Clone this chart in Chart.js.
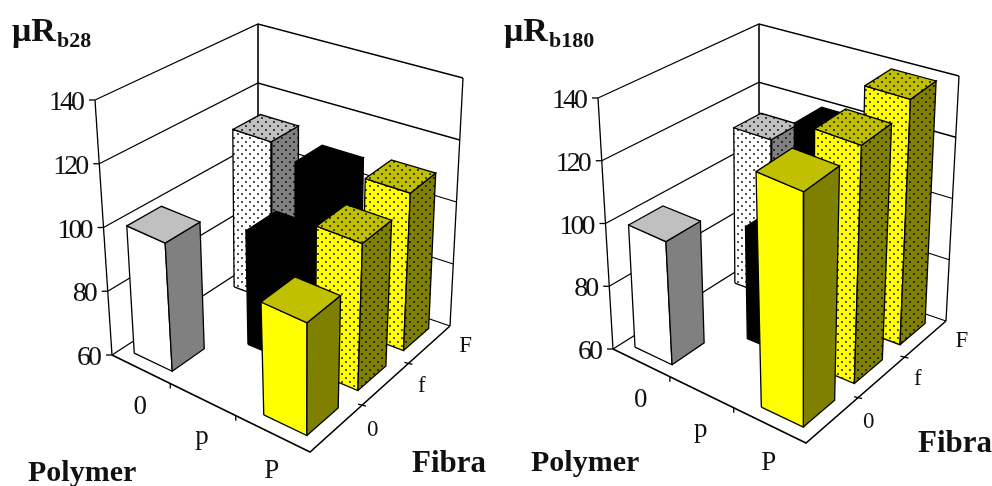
<!DOCTYPE html>
<html>
<head>
<meta charset="utf-8">
<title>Rb</title>
<script src="https://cdn.jsdelivr.net/npm/chart.js@4/dist/chart.umd.js"></script>
<style>
html, body { margin: 0; padding: 0; background: #fff; }
#wrap { position: relative; width: 992px; height: 486px; overflow: hidden; }
.panel { position: absolute; top: 0; width: 496px; height: 486px; filter: blur(0.4px); }
</style>
</head>
<body>
<div id="wrap">
  <div class="panel" style="left:0"><canvas id="chartB28"></canvas></div>
  <div class="panel" style="left:496px"><canvas id="chartB180"></canvas></div>
</div>
<script>
var polymerLabels = ['0', 'p', 'P'];
var fibraLabels = ['0', 'f', 'F'];
var tickValues = [60, 80, 100, 120, 140];

// fractional design, 7 bars only
var barPolymer = [0, 0, 1, 1, 2, 2, 2];
var barFibra   = [0, 2, 1, 2, 0, 1, 2];
var valuesB28  = [100, 112, 96, 108, 95, 106, 110];
var valuesB180 = [99, 112, 96, 120, 134, 135.5, 139];

var zMin = 60, zMax = 140;
// bar extent inside its cell, per polymer column
var barP0 = [0.2, 0.23, 0.24], barP1 = [0.85, 0.85, 0.82];
var barF = [0.2, 0.8];

// floor and top corners of the box, order: left, front, right, back
var boxB28 = {
    floor: [[112, 355], [310, 452], [450, 326], [258, 260]],
    top:   [[95, 100], [311, 195], [463, 78], [258, 24]]
};
var boxB180 = {
    floor: [[117, 349], [310, 443], [450, 321], [263, 257]],
    top:   [[102, 98], [311, 189], [463, 76], [263, 24]]
};

function homography(q) {
    // unit square -> quad
    var x0 = q[0][0], y0 = q[0][1], x1 = q[1][0], y1 = q[1][1];
    var x2 = q[2][0], y2 = q[2][1], x3 = q[3][0], y3 = q[3][1];
    var dx1 = x1 - x2, dx2 = x3 - x2, sx = x0 - x1 + x2 - x3;
    var dy1 = y1 - y2, dy2 = y3 - y2, sy = y0 - y1 + y2 - y3;
    var den = dx1 * dy2 - dx2 * dy1;
    var g = (sx * dy2 - dx2 * sy) / den;
    var h = (dx1 * sy - sx * dy1) / den;
    return function (p, f) {
        var w = g * p + h * f + 1;
        return [
            (x1 - x0 + g * x1) * p / w + (x3 - x0 + h * x3) * f / w + x0 / w,
            (y1 - y0 + g * y1) * p / w + (y3 - y0 + h * y3) * f / w + y0 / w
        ];
    };
}

function makeProjection(box) {
    var low = homography(box.floor), high = homography(box.top);
    return function (p, f, z) {
        var t = (z - zMin) / (zMax - zMin);
        var a = low(p, f), b = high(p, f);
        return { x: a[0] + (b[0] - a[0]) * t, y: a[1] + (b[1] - a[1]) * t };
    };
}

function dotPattern(color) {
    var c = document.createElement('canvas');
    c.width = 8; c.height = 8;
    var g = c.getContext('2d');
    g.fillStyle = color;
    g.fillRect(0, 0, 8, 8);
    g.fillStyle = '#000';
    g.beginPath();
    g.arc(2, 2, 0.9, 0, Math.PI * 2);
    g.arc(6, 6, 0.9, 0, Math.PI * 2);
    g.fill();
    return g.createPattern(c, 'repeat');
}

var barFaces = [
    { front: '#ffffff', side: '#808080', top: '#c0c0c0' },
    { front: dotPattern('#ffffff'), side: dotPattern('#808080'), top: dotPattern('#c0c0c0') },
    { front: '#000000', side: '#000000', top: '#000000' },
    { front: '#000000', side: '#000000', top: '#000000' },
    { front: '#ffff00', side: '#808000', top: '#c0c000' },
    { front: dotPattern('#ffff00'), side: dotPattern('#808000'), top: dotPattern('#c0c000') },
    { front: dotPattern('#ffff00'), side: dotPattern('#808000'), top: dotPattern('#c0c000') }
];

function wire(points, width) {
    return {
        data: points, showLine: true, fill: false, pointRadius: 0,
        borderColor: '#000', borderWidth: width || 1.3, tension: 0
    };
}

function face(points, color) {
    return {
        data: points.concat([points[0]]), showLine: true, fill: 'shape', pointRadius: 0,
        backgroundColor: color, borderColor: '#000', borderWidth: 1.3, tension: 0,
        borderJoinStyle: 'miter'
    };
}

function buildDatasets(values, proj) {
    var list = [];
    // walls
    for (var i = 0; i < tickValues.length; i++) {
        var z = tickValues[i];
        list.push(wire([proj(0, 0, z), proj(0, 1, z), proj(1, 1, z)]));
        var a = proj(0, 0, z);
        list.push(wire([a, { x: a.x - 6, y: a.y }]));
    }
    list.push(wire([proj(0, 0, zMin), proj(0, 0, zMax)]));
    list.push(wire([proj(0, 1, zMin), proj(0, 1, zMax)], 1.6));
    list.push(wire([proj(1, 1, zMin), proj(1, 1, zMax)]));
    // floor
    list.push(wire([proj(0, 0, zMin), proj(1, 0, zMin), proj(1, 1, zMin)], 1.6));
    for (var k = 1; k <= 2; k++) {
        var e = proj(k / 3, 0, zMin);
        list.push(wire([e, { x: e.x, y: e.y + 5 }]));
        var r = proj(1, k / 3, zMin);
        list.push(wire([{ x: r.x - 4, y: r.y - 1 }, { x: r.x + 4, y: r.y + 1 }]));
    }
    // bars, far ones first
    var order = barPolymer.map(function (v, i) { return i; });
    order.sort(function (a, b) {
        return (barPolymer[a] - barFibra[a]) - (barPolymer[b] - barFibra[b]);
    });
    order.forEach(function (i) {
        var col = barPolymer[i];
        var p0 = (col + barP0[col]) / 3, p1 = (col + barP1[col]) / 3;
        var f0 = (barFibra[i] + barF[0]) / 3, f1 = (barFibra[i] + barF[1]) / 3;
        var v = values[i], c = barFaces[i];
        list.push(face([proj(p0, f0, zMin), proj(p1, f0, zMin), proj(p1, f0, v), proj(p0, f0, v)], c.front));
        list.push(face([proj(p1, f0, zMin), proj(p1, f1, zMin), proj(p1, f1, v), proj(p1, f0, v)], c.side));
        list.push(face([proj(p0, f0, v), proj(p1, f0, v), proj(p1, f1, v), proj(p0, f1, v)], c.top));
    });
    // first dataset is painted last in chart.js
    return list.reverse();
}

function textPlugin(proj, title, sub, pos) {
    return {
        id: 'labels',
        afterDraw: function (chart) {
            var ctx = chart.ctx, sx = chart.scales.x, sy = chart.scales.y;
            function put(text, x, y, font, align, spacing) {
                ctx.font = font;
                ctx.textAlign = align || 'center';
                ctx.textBaseline = 'alphabetic';
                ctx.letterSpacing = spacing || '0px';
                ctx.fillStyle = '#111';
                ctx.fillText(text, sx.getPixelForValue(x), sy.getPixelForValue(y));
            }
            tickValues.forEach(function (z) {
                var a = proj(0, 0, z);
                put(String(z), a.x - 13, a.y + 10, '28px "Liberation Serif"', 'right', '-3px');
            });
            polymerLabels.forEach(function (s, i) {
                var a = proj((i + 0.5) / 3, 0, zMin);
                put(s, a.x, a.y + 45, '27px "Liberation Serif"');
            });
            fibraLabels.forEach(function (s, i) {
                var a = proj(1, (i + 0.5) / 3, zMin);
                put(s, a.x + 36, a.y + 8, '23px "Liberation Serif"');
            });
            put(title, pos.titleX, 41, 'bold 34px "Liberation Serif"', 'left');
            put(sub, pos.titleX + 45, 47, 'bold 22px "Liberation Serif"', 'left');
            put('Polymer', pos.polyX, pos.polyY, 'bold 30px "Liberation Serif"', 'left');
            put('Fibra', pos.fibX, pos.fibY, 'bold 31px "Liberation Serif"', 'left');
        }
    };
}

function drawPanel(id, values, box, title, sub, pos) {
    var proj = makeProjection(box);
    return new Chart(document.getElementById(id), {
        type: 'scatter',
        data: { datasets: buildDatasets(values, proj) },
        plugins: [textPlugin(proj, title, sub, pos)],
        options: {
            responsive: true,
            maintainAspectRatio: false,
            animation: false,
            events: [],
            layout: { padding: 0 },
            plugins: { legend: { display: false }, tooltip: { enabled: false } },
            scales: {
                x: { type: 'linear', display: false, min: 0, max: 496 },
                y: { type: 'linear', display: false, min: 0, max: 486, reverse: true }
            }
        }
    });
}

drawPanel('chartB28', valuesB28, boxB28, 'μR', 'b28',
    { titleX: 12, polyX: 28, polyY: 481, fibX: 412, fibY: 472 });
drawPanel('chartB180', valuesB180, boxB180, 'μR', 'b180',
    { titleX: 8, polyX: 35, polyY: 471, fibX: 422, fibY: 452 });
</script>
</body>
</html>
